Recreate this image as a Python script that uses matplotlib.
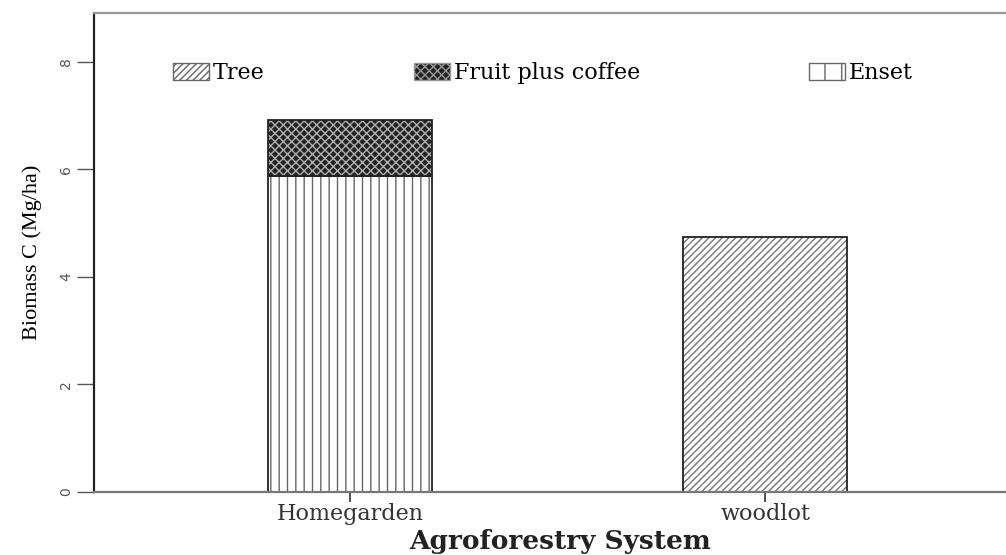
import numpy as np
import matplotlib.pyplot as plt
from matplotlib.patches import Patch

systems = ["Homegarden", "woodlot"]
tree = [0.0, 4.74]
fruit_coffee = [1.04, 0.0]
enset = [5.88, 0.0]
yticks = [0, 2, 4, 6, 8]
legend_labels = ["Tree", "Fruit plus coffee", "Enset"]

x = np.arange(len(systems))
w = 0.395

fig = plt.figure(figsize=(10.06, 5.55), dpi=100)
ax = fig.add_axes([0.0934, 0.1135, 0.9205, 0.863])

plt.rcParams['hatch.linewidth'] = 1.0

# enset at the bottom, fruit plus coffee stacked on top
ax.bar(x, enset, w, color="white", edgecolor="#666666", hatch="||", linewidth=0)
ax.bar(x, fruit_coffee, w, bottom=enset, color="#222222", edgecolor="#b0b0b0",
       hatch="xxxx", linewidth=0)
ax.bar(x, tree, w, color="white", edgecolor="#777777", hatch="/////", linewidth=0)

# black outlines over the hatched fills
for vals, bot in [(enset, None), (fruit_coffee, enset), (tree, None)]:
    v = np.array(vals)
    keep = v > 0
    ax.bar(x[keep], v[keep], w, bottom=None if bot is None else np.array(bot)[keep],
           fill=False, edgecolor="#222222", linewidth=1.3)

ax.set_xlim(-0.617, 1.614)
ax.set_ylim(0, 8.91)
ax.set_xticks(x)
ax.set_xticklabels(systems, family="DejaVu Serif", fontsize=16, color="#333333")
ax.set_yticks(yticks)
ax.set_yticklabels([str(t) for t in yticks], family="DejaVu Sans", fontsize=10,
                   color="#555555", rotation=90, va="center")
ax.tick_params(axis="y", length=12, width=1, color="#555555", pad=3)
ax.tick_params(axis="x", length=7, width=1.2, color="#333333", pad=1)

ax.spines["left"].set_color("#222222")
ax.spines["left"].set_linewidth(1.6)
ax.spines["bottom"].set_color("#777777")
ax.spines["bottom"].set_linewidth(1.6)
ax.spines["top"].set_color("#999999")
ax.spines["top"].set_linewidth(1.6)
ax.spines["right"].set_visible(False)

ax.set_ylabel("Biomass C (Mg/ha)", family="Liberation Serif", fontsize=16)
ax.yaxis.set_label_coords(-0.056, 0.5)
fig.text(560 / 1006, 1 - 549 / 555, "Agroforestry System", family="DejaVu Serif",
         fontweight="bold", fontsize=19, ha="center", va="baseline", color="#222222")

handles = [
    Patch(facecolor="white", edgecolor="#666666", hatch="/////", linewidth=1),
    Patch(facecolor="#222222", edgecolor="#999999", hatch="xxxx", linewidth=1),
    Patch(facecolor="white", edgecolor="#666666", hatch="|", linewidth=1),
]
legend_x = [173, 414, 809]
for h, lab, px in zip(handles, legend_labels, legend_x):
    fig.legend(handles=[h], labels=[lab], loc="center left",
               bbox_to_anchor=(px / 1006, 1 - 73 / 555), frameon=False,
               borderpad=0, borderaxespad=0, handlelength=1.6, handleheight=0.8,
               handletextpad=0.2, prop={"family": "DejaVu Serif", "size": 16})

fig.savefig("out.png", dpi=100, facecolor="white")
